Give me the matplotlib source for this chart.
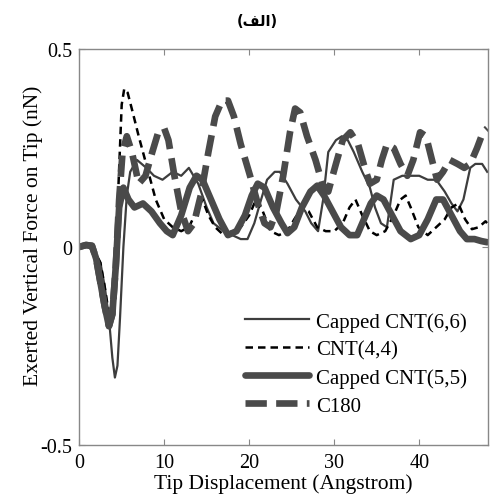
import matplotlib
matplotlib.use("Agg")
import matplotlib.pyplot as plt

# Capped CNT(6,6) - thin solid
x66 = [0, 1, 1.8, 2.5, 3.0, 3.5, 3.9, 4.2, 4.5, 4.8, 5.2, 5.6, 6.0, 6.8, 7.9, 8.8, 9.8, 11.0, 12.0, 12.9, 14.0, 15.0, 15.8, 17.0, 18.0, 19.0, 19.8, 20.6, 21.4, 22.1, 23.0, 23.6, 24.5, 25.5, 26.6, 27.3, 28.1, 28.7, 29.3, 30.2, 30.9, 31.6, 32.3, 33.3, 34.2, 34.8, 35.5, 36.2, 37.0, 38.0, 39.0, 40.0, 41.0, 42.0, 43.0, 43.8, 44.5, 45.2, 46.0, 46.6, 47.4, 48.0]
y66 = [0.0, 0.0, -0.01, -0.04, -0.10, -0.18, -0.28, -0.33, -0.30, -0.18, 0.0, 0.13, 0.19, 0.22, 0.20, 0.18, 0.17, 0.19, 0.18, 0.20, 0.16, 0.10, 0.06, 0.04, 0.03, 0.02, 0.02, 0.06, 0.12, 0.17, 0.19, 0.19, 0.16, 0.12, 0.09, 0.06, 0.04, 0.12, 0.24, 0.27, 0.28, 0.27, 0.24, 0.19, 0.15, 0.10, 0.06, 0.05, 0.17, 0.18, 0.18, 0.18, 0.17, 0.17, 0.14, 0.11, 0.09, 0.12, 0.20, 0.21, 0.21, 0.19]

# CNT(4,4) - thin black dashed
x44 = [0, 1, 1.8, 2.5, 3.0, 3.5, 3.9, 4.3, 4.7, 5.0, 5.3, 5.7, 6.3, 7.0, 8.0, 9.0, 10.0, 11.0, 12.0, 12.9, 13.8, 14.5, 15.2, 16.0, 17.0, 18.0, 19.0, 20.0, 20.8, 21.6, 22.5, 23.5, 24.5, 25.3, 26.2, 27.0, 28.0, 29.0, 30.0, 31.0, 31.8, 32.5, 33.3, 34.2, 35.0, 36.0, 37.0, 37.8, 38.4, 39.0, 39.9, 41.0, 42.0, 43.0, 43.8, 44.6, 45.4, 46.2, 47.0, 47.8, 48.0]
y44 = [0.0, 0.0, -0.01, -0.04, -0.10, -0.17, -0.14, -0.02, 0.20, 0.36, 0.40, 0.39, 0.34, 0.28, 0.20, 0.12, 0.07, 0.05, 0.04, 0.05, 0.09, 0.12, 0.08, 0.05, 0.03, 0.04, 0.05, 0.08, 0.12, 0.09, 0.04, 0.03, 0.04, 0.07, 0.10, 0.09, 0.05, 0.04, 0.04, 0.06, 0.10, 0.12, 0.08, 0.04, 0.03, 0.04, 0.08, 0.12, 0.13, 0.10, 0.05, 0.03, 0.05, 0.07, 0.10, 0.11, 0.07, 0.045, 0.05, 0.065, 0.06]

# Capped CNT(5,5) - thick solid
x55 = [0, 0.8, 1.5, 2.0, 2.5, 3.0, 3.5, 3.9, 4.3, 4.7, 5.2, 5.8, 6.5, 7.5, 8.5, 9.5, 10.3, 11.0, 12.0, 13.0, 13.8, 14.5, 15.5, 16.5, 17.5, 18.5, 19.5, 20.3, 21.0, 21.8, 22.8, 23.8, 24.5, 25.3, 26.2, 27.2, 28.0, 28.8, 29.8, 30.8, 31.8, 32.7, 33.5, 34.3, 35.0, 35.8, 36.8, 37.8, 39.0, 40.0, 41.0, 42.0, 42.8, 43.8, 44.8, 45.6, 46.5, 47.3, 48.0]
y55 = [0.0, 0.005, 0.003, -0.03, -0.09, -0.15, -0.20, -0.17, -0.05, 0.10, 0.15, 0.12, 0.10, 0.11, 0.09, 0.06, 0.04, 0.03, 0.08, 0.15, 0.18, 0.17, 0.12, 0.07, 0.03, 0.04, 0.08, 0.13, 0.16, 0.15, 0.10, 0.06, 0.035, 0.05, 0.10, 0.14, 0.155, 0.13, 0.09, 0.05, 0.03, 0.03, 0.07, 0.11, 0.13, 0.12, 0.08, 0.04, 0.02, 0.03, 0.07, 0.12, 0.12, 0.08, 0.04, 0.02, 0.02, 0.015, 0.012]

# C180 - thick dashed
x180 = [0, 0.8, 1.5, 2.0, 2.5, 3.0, 3.5, 3.9, 4.3, 4.7, 5.1, 5.6, 6.2, 7.0, 7.8, 8.6, 9.3, 10.0, 10.5, 11.2, 12.0, 12.8, 13.5, 14.3, 15.2, 16.0, 16.8, 17.5, 18.2, 19.0, 20.1, 21.0, 21.8, 22.5, 23.2, 24.0, 24.8, 25.4, 26.0, 26.8, 27.8, 28.6, 29.3, 30.2, 31.0, 31.9, 32.8, 33.6, 34.2, 35.0, 35.6, 36.2, 37.0, 37.8, 38.6, 39.3, 40.1, 40.8, 41.5, 42.1, 42.8, 43.6, 44.5, 45.3, 46.0, 46.8, 47.5, 48.0]
y180 = [0.0, 0.005, 0.003, -0.03, -0.09, -0.15, -0.20, -0.17, -0.05, 0.12, 0.24, 0.28, 0.24, 0.16, 0.18, 0.24, 0.29, 0.30, 0.27, 0.18, 0.09, 0.04, 0.06, 0.13, 0.24, 0.33, 0.37, 0.37, 0.33, 0.26, 0.18, 0.11, 0.06, 0.05, 0.09, 0.18, 0.29, 0.35, 0.34, 0.28, 0.22, 0.16, 0.14, 0.21, 0.27, 0.29, 0.26, 0.20, 0.16, 0.17, 0.22, 0.26, 0.25, 0.21, 0.18, 0.22, 0.29, 0.28, 0.22, 0.17, 0.19, 0.22, 0.21, 0.20, 0.21, 0.25, 0.29, 0.30]

legend_labels = ["Capped CNT(6,6)", "CNT(4,4)", "Capped CNT(5,5)", "C180"]
xticks = [0, 10, 20, 30, 40]
yticks = [-0.5, 0, 0.5]
ytick_labels = ["-0.5", "0", "0.5"]

plt.rcParams['font.family'] = ['Liberation Serif', 'DejaVu Serif']

fig = plt.figure(figsize=(4.95, 5.02), dpi=100)
ax = fig.add_axes([0.160, 0.112, 0.826, 0.788])

c_dark = '#3d3d3d'
c_thick = '#4a4a4a'
ax.plot(x66, y66, color=c_dark, lw=1.6, solid_joinstyle='round', label=legend_labels[0])
ax.plot(x44, y44, color='black', lw=1.8, linestyle=(0, (3, 2)), label=legend_labels[1])
ax.plot(x55, y55, color=c_thick, lw=4.8, solid_joinstyle='round', solid_capstyle='round', label=legend_labels[2])
ax.plot(x180, y180, color=c_thick, lw=4.8, linestyle=(0, (3.2, 1.4)), label=legend_labels[3])

ax.set_xlim(0, 48.1)
ax.set_ylim(-0.5, 0.5)
ax.set_xticks(xticks)
ax.set_yticks(yticks)
ax.set_yticklabels(ytick_labels)
ax.tick_params(direction='in', top=True, right=True, labelsize=14.5, length=4,
               color='#888888', pad=5)
ax.tick_params(axis='x', pad=6)
for s in ax.spines.values():
    s.set_color('#888888')
    s.set_linewidth(1.0)

ax.set_xlabel('Tip Displacement (Angstrom)', fontsize=15.5, labelpad=1)
ax.set_ylabel('Exerted Vertical Force on Tip (nN)', fontsize=15.5)
ax.yaxis.set_label_coords(-0.088, 0.53)

title = '(' + '\uFED2\uFEDF\uFE8D' + ')'
fig.text(0.52, 0.958, title, ha='center', va='center', fontsize=10.5,
         family=['DejaVu Sans'], fontweight='bold')

leg = ax.legend(loc='lower right', bbox_to_anchor=(0.98, 0.042), frameon=False,
                fontsize=15, handlelength=3.1, handletextpad=0.35, labelspacing=0.4,
                borderaxespad=0.2)

fig.savefig('out.png', dpi=100)
